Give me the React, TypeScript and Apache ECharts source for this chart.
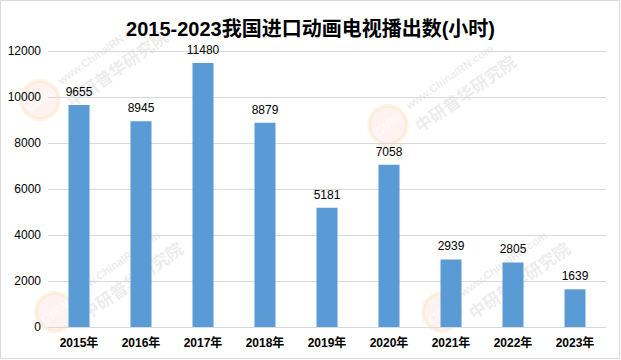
import React, { useEffect, useRef } from "react";
import * as echarts from "echarts";

const categories = ["2015年", "2016年", "2017年", "2018年", "2019年", "2020年", "2021年", "2022年", "2023年"];
const hours = [9655, 8945, 11480, 8879, 5181, 7058, 2939, 2805, 1639];
const yTicks = { min: 0, max: 12000, interval: 2000 };
const titleText = "2015-2023我国进口动画电视播出数(小时)";

const FONT = "'Liberation Sans', 'Noto Sans CJK SC', sans-serif";

function watermark(cx: number, cy: number) {
  const rot = (35 * Math.PI) / 180;
  return {
    type: "group",
    x: cx,
    y: cy,
    silent: true,
    z: 100,
    children: [
      {
        type: "circle",
        shape: { cx: 0, cy: 0, r: 19 },
        style: { fill: "rgba(240,120,100,0.09)", stroke: "rgba(250,200,120,0.18)", lineWidth: 4 },
      },
      {
        type: "text",
        x: 0,
        y: 0,
        rotation: rot,
        style: {
          text: "CIRN",
          fill: "rgba(255,255,255,0.6)",
          font: "bold italic 13px " + FONT,
          align: "center",
          verticalAlign: "middle",
        },
      },
      {
        type: "text",
        x: 22,
        y: -14,
        rotation: rot,
        style: {
          text: "www.ChinaIRN.com",
          fill: "rgba(200,200,200,0.35)",
          font: "bold 11px " + FONT,
          align: "left",
          verticalAlign: "bottom",
        },
      },
      {
        type: "text",
        x: 28,
        y: 2,
        rotation: rot,
        style: {
          text: "中研普华研究院",
          fill: "rgba(200,200,200,0.35)",
          font: "bold 17px 'Noto Sans CJK SC', sans-serif",
          align: "left",
          verticalAlign: "middle",
        },
      },
    ],
  };
}

export default function App() {
  const ref = useRef<HTMLDivElement>(null);
  useEffect(() => {
    if (!ref.current) return;
    const chart = echarts.init(ref.current, null, { renderer: "svg" });
    chart.setOption({
      animation: false,
      backgroundColor: "#ffffff",
      title: {
        text: titleText,
        left: "center",
        top: 14,
        textStyle: { fontFamily: FONT, fontSize: 20, fontWeight: "bold", color: "#000" },
      },
      grid: { left: 48, right: 15, top: 51, bottom: 33, containLabel: false },
      xAxis: {
        type: "category",
        data: categories,
        axisLine: { show: true, lineStyle: { color: "#d9d9d9" } },
        axisTick: { show: false },
        axisLabel: { fontFamily: FONT, fontSize: 12, fontWeight: "bold", color: "#000", margin: 10 },
      },
      yAxis: {
        type: "value",
        min: yTicks.min,
        max: yTicks.max,
        interval: yTicks.interval,
        axisLine: { show: false },
        axisTick: { show: false },
        splitLine: { lineStyle: { color: "#d9d9d9" } },
        axisLabel: {
          fontFamily: FONT,
          fontSize: 12,
          color: "#000",
          margin: 7,
          formatter: (v: number) => String(v),
        },
      },
      series: [
        {
          type: "bar",
          data: hours,
          barWidth: 21,
          itemStyle: { color: "#5B9BD5" },
          label: {
            show: true,
            position: "top",
            distance: 7,
            fontFamily: FONT,
            fontSize: 12,
            color: "#000",
          },
        },
      ],
      graphic: [
        watermark(40, 100),
        watermark(388, 125),
        watermark(55, 312),
        watermark(442, 312),
        {
          type: "rect",
          shape: { x: 0.5, y: 0.5, width: 619, height: 358 },
          style: { fill: "none", stroke: "#d9d9d9", lineWidth: 1 },
          silent: true,
          z: 101,
        },
      ],
    });
    return () => chart.dispose();
  }, []);
  return <div ref={ref} style={{ position: "fixed", left: 0, top: 0, width: 621, height: 360 }} />;
}
